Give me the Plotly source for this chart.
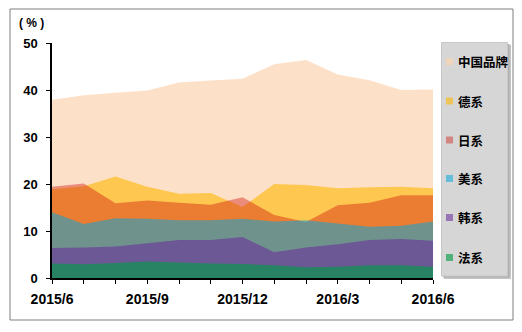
import plotly.graph_objects as go

months = ["2015/6", "2015/7", "2015/8", "2015/9", "2015/10", "2015/11", "2015/12",
          "2016/1", "2016/2", "2016/3", "2016/4", "2016/5", "2016/6"]
tick_text = ["2015/6", "", "", "2015/9", "", "", "2015/12", "", "", "2016/3", "", "", "2016/6"]

china = [37.9, 38.9, 39.4, 39.9, 41.6, 42.0, 42.4, 45.5, 46.4, 43.3, 42.1, 40.0, 40.1]
german = [18.9, 19.5, 21.6, 19.4, 17.9, 18.1, 15.1, 20.0, 19.8, 19.1, 19.3, 19.4, 19.1]
japan = [19.4, 20.1, 15.9, 16.5, 16.0, 15.6, 17.2, 13.4, 11.9, 15.5, 16.0, 17.6, 17.6]
usa = [14.0, 11.5, 12.7, 12.6, 12.3, 12.3, 12.6, 12.0, 12.3, 11.6, 10.9, 11.1, 12.0]
korea = [6.4, 6.5, 6.7, 7.4, 8.1, 8.1, 8.7, 5.5, 6.5, 7.2, 8.1, 8.3, 7.9]
france = [3.1, 2.9, 3.2, 3.5, 3.3, 3.1, 3.0, 2.7, 2.3, 2.4, 2.7, 2.7, 2.4]

names = ["中国品牌", "德系", "日系", "美系", "韩系", "法系"]
series = [china, german, japan, usa, korea, france]
colors = ["rgba(252,211,176,0.7)", "rgba(255,184,0,0.6)", "rgba(207,12,5,0.4)",
          "rgba(0,165,225,0.52)", "rgba(104,44,154,0.57)", "rgba(0,156,70,0.62)"]

W, H = 522, 332
L, R, T, B = 52, 433, 43, 278


def px(x):
    return (x - L) / (R - L)


def py(y):
    return (B - y) / (B - T)


fig = go.Figure()
for n, s, c in zip(names, series, colors):
    fig.add_trace(go.Scatter(x=months, y=s, name=n, mode="none", fill="tozeroy",
                             fillcolor=c, showlegend=False))

shapes = []
# outer border
shapes.append(dict(type="rect", xref="paper", yref="paper", x0=px(10), x1=px(513),
                   y0=py(320), y1=py(9), line=dict(color="#7f7f7f", width=1), layer="below"))
# legend shadow + box
shapes.append(dict(type="rect", xref="paper", yref="paper", x0=px(444), x1=px(511),
                   y0=py(279), y1=py(45), line=dict(width=0), fillcolor="#c4c4c4", layer="above"))
shapes.append(dict(type="rect", xref="paper", yref="paper", x0=px(443), x1=px(509.5),
                   y0=py(277.5), y1=py(44), line=dict(width=0), fillcolor="#b0b0b0", layer="above"))
shapes.append(dict(type="rect", xref="paper", yref="paper", x0=px(441.5), x1=px(507.5),
                   y0=py(276), y1=py(42.5), line=dict(color="#c8c8c8", width=1),
                   fillcolor="#d6d6d6", layer="above"))

annotations = []
item_y = [61.7, 101, 140, 178.5, 217.5, 257.5]
for n, c, yy in zip(names, colors, item_y):
    shapes.append(dict(type="rect", xref="paper", yref="paper", x0=px(446), x1=px(453),
                       y0=py(yy + 3.5), y1=py(yy - 3.5), line=dict(width=0),
                       fillcolor=c, layer="above"))
    annotations.append(dict(text=n, xref="paper", yref="paper", x=px(456), y=py(yy),
                            xanchor="left", yanchor="middle", showarrow=False,
                            font=dict(family="Noto Sans CJK SC", size=12.5, color="#000000",
                                      weight="bold")))

annotations.append(dict(text="( % )", xref="paper", yref="paper", x=px(31), y=py(23),
                        xanchor="center", yanchor="middle", showarrow=False,
                        font=dict(family="Liberation Sans", size=12, color="#000000",
                                  weight="bold")))

fig.update_layout(
    width=W, height=H,
    margin=dict(l=L, r=W - R, t=T, b=H - B, pad=0),
    paper_bgcolor="white", plot_bgcolor="white",
    showlegend=False,
    shapes=shapes, annotations=annotations,
    xaxis=dict(type="category", range=[0, 12], tickmode="array", tickvals=months,
               ticktext=tick_text, ticks="outside", ticklen=4, tickcolor="black",
               showline=True, linecolor="black", linewidth=1.5, showgrid=False,
               zeroline=False, ticklabelstandoff=3,
               tickfont=dict(family="Liberation Sans", size=14, color="black", weight="bold")),
    yaxis=dict(range=[0, 50], tickvals=[0, 10, 20, 30, 40, 50], ticks="outside",
               ticklen=4, tickcolor="black", showline=True, linecolor="black",
               linewidth=1.5, showgrid=False, zeroline=False, ticklabelstandoff=6,
               tickfont=dict(family="Liberation Sans", size=13, color="black", weight="bold")),
)

fig.write_html("out.html")
